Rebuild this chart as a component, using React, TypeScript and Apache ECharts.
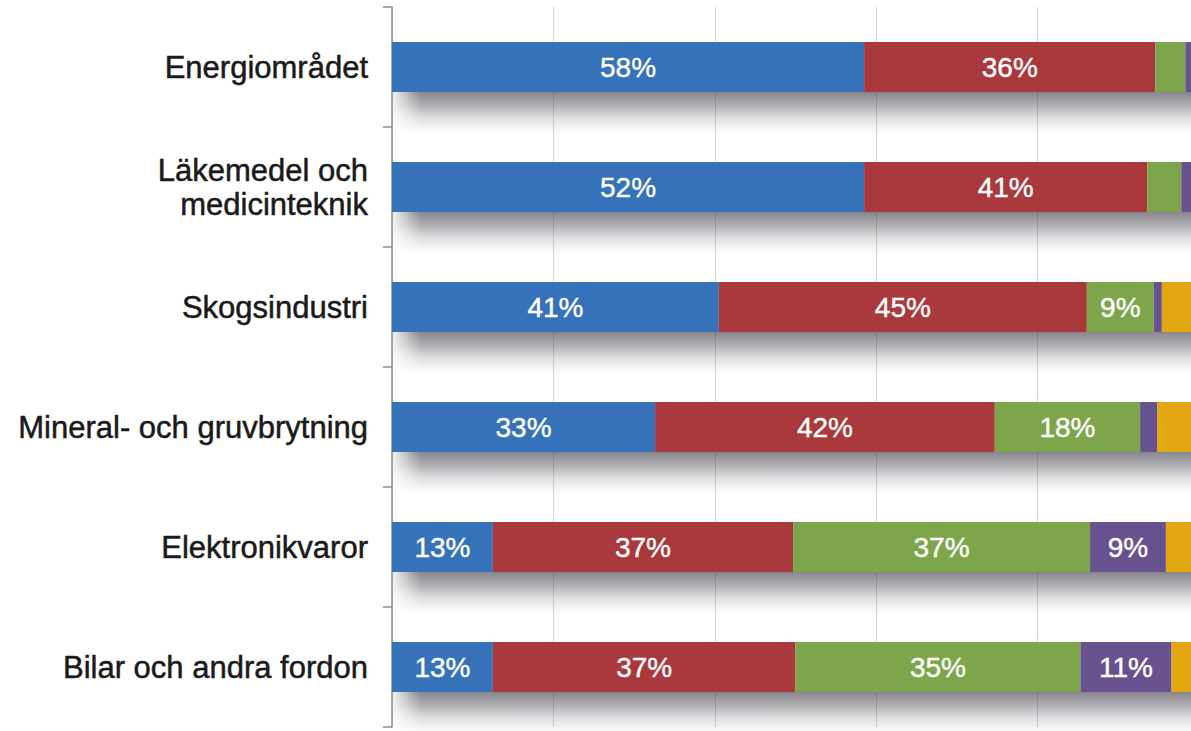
import React, { useEffect, useRef } from "react";
import * as echarts from "echarts";

const categories = [
  "Energiområdet",
  "Läkemedel och\nmedicinteknik",
  "Skogsindustri",
  "Mineral- och gruvbrytning",
  "Elektronikvaror",
  "Bilar och andra fordon",
];

// segment widths as drawn (percent of 100)
const blueValues = [58.5, 58.5, 40.5, 32.6, 12.5, 12.5];
const redValues = [36.1, 35.1, 45.6, 42.1, 37.2, 37.5];
const greenValues = [3.7, 4.2, 8.3, 18.0, 36.8, 35.3];
const purpleValues = [1.0, 1.5, 1.0, 2.1, 9.4, 11.3];
const orangeValues = [0.7, 0.7, 4.6, 5.2, 4.1, 3.4];

// printed data labels
const blueLabels = ["58%", "52%", "41%", "33%", "13%", "13%"];
const redLabels = ["36%", "41%", "45%", "42%", "37%", "37%"];
const greenLabels = ["", "", "9%", "18%", "37%", "35%"];
const purpleLabels = ["", "", "", "", "9%", "11%"];
const orangeLabels = ["", "", "", "", "", ""];

const xTicks = [0, 20, 40, 60, 80, 100];

const FONT = "Liberation Sans, Arial, sans-serif";
const BAR = 50;

export default function App() {
  const ref = useRef<HTMLDivElement>(null);

  useEffect(() => {
    if (!ref.current) return;
    const chart = echarts.init(ref.current, null, { renderer: "svg" });

    const totals = categories.map((_, i) => [
      blueValues[i] + redValues[i] + greenValues[i] + purpleValues[i] + orangeValues[i],
      i,
    ]);

    const seg = (name: string, data: number[], labels: string[], color: string) => ({
      name,
      type: "bar",
      stack: "total",
      data,
      barWidth: BAR,
      z: 3,
      itemStyle: { color },
      label: {
        show: true,
        position: "inside",
        color: "#ffffff",
        fontSize: 28,
        fontFamily: FONT,
        textBorderColor: "#ffffff",
        textBorderWidth: 0.4,
        formatter: (p: any) => labels[p.dataIndex],
      },
    });

    chart.setOption({
      animation: false,
      backgroundColor: "#ffffff",
      grid: { left: 392, right: 41, top: 7, bottom: 4, containLabel: false },
      xAxis: {
        type: "value",
        min: xTicks[0],
        max: xTicks[xTicks.length - 1],
        interval: 20,
        axisLabel: { show: false },
        axisLine: { show: false },
        axisTick: { show: false },
        splitLine: { show: true, lineStyle: { color: "#d6d6d6", width: 1 } },
      },
      yAxis: {
        type: "category",
        data: categories,
        inverse: true,
        axisLine: { show: true, lineStyle: { color: "#8c8c8c", width: 1.5 } },
        axisTick: { show: true, length: 9, lineStyle: { color: "#8c8c8c", width: 1.5 } },
        axisLabel: {
          fontSize: 31,
          color: "#1a1a1a",
          fontFamily: FONT,
          margin: 24,
          lineHeight: 34,
          align: "right",
          textBorderColor: "#1a1a1a",
          textBorderWidth: 0.5,
        },
        splitLine: { show: false },
      },
      series: [
        {
          name: "shadow",
          type: "custom",
          silent: true,
          z: 2,
          encode: { x: 0, y: 1 },
          data: totals,
          renderItem: (params: any, api: any) => {
            const idx = api.value(1);
            const start = api.coord([0, idx]);
            const end = api.coord([api.value(0), idx]);
            const top = start[1] + BAR / 2;
            return {
              type: "group",
              children: [
                {
                  type: "rect",
                  shape: { x: start[0] + 1, y: top, width: end[0] - start[0], height: 42 },
                  style: {
                    fill: new echarts.graphic.LinearGradient(0, 0, 0, 1, [
                      { offset: 0, color: "rgba(60,60,70,0.62)" },
                      { offset: 0.3, color: "rgba(60,60,70,0.42)" },
                      { offset: 0.6, color: "rgba(60,60,70,0.17)" },
                      { offset: 1, color: "rgba(60,60,70,0)" },
                    ]),
                  },
                },
                {
                  type: "rect",
                  shape: { x: start[0] + 1, y: top, width: 28, height: 42 },
                  style: {
                    fill: new echarts.graphic.LinearGradient(0, 0, 1, 0, [
                      { offset: 0, color: "rgba(255,255,255,0.85)" },
                      { offset: 1, color: "rgba(255,255,255,0)" },
                    ]),
                  },
                },
              ],
            };
          },
        },
        seg("blue", blueValues, blueLabels, "#3572b9"),
        seg("red", redValues, redLabels, "#a9393c"),
        seg("green", greenValues, greenLabels, "#7da64b"),
        seg("purple", purpleValues, purpleLabels, "#67528f"),
        seg("orange", orangeValues, orangeLabels, "#e2a711"),
      ],
    });

    return () => chart.dispose();
  }, []);

  return (
    <div
      style={{
        position: "absolute",
        left: 0,
        top: 0,
        width: 1191,
        height: 731,
        overflow: "hidden",
        background: "#fff",
      }}
    >
      <div ref={ref} style={{ width: 1240, height: 731 }} />
    </div>
  );
}
